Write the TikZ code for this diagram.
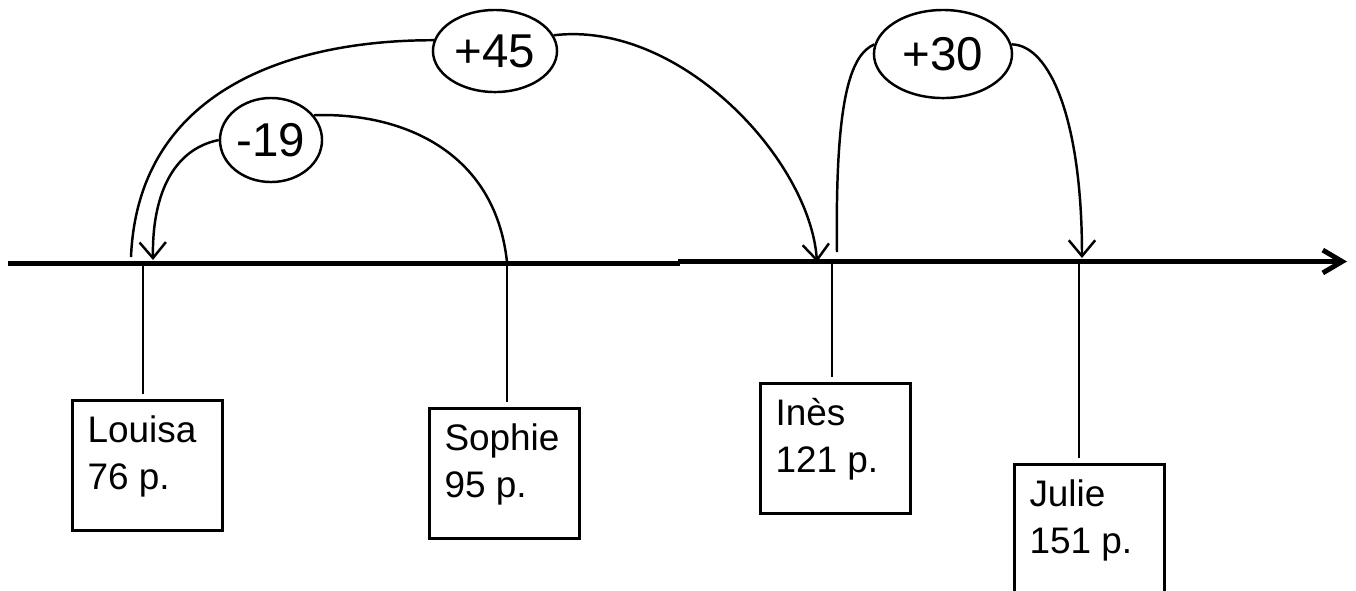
\documentclass[tikz,border=0pt]{standalone}
\usepackage{fontspec}
\setmainfont{Liberation Sans}
\usetikzlibrary{arrows.meta,shapes.geometric}

\newcommand{\namebox}[1]{\parbox[c][1.3cm][t]{1.2cm}{\rule{0pt}{11.95pt}#1}}

\begin{document}
\begin{tikzpicture}[x=0.01cm,y=-0.01cm,
  box/.style={draw,line width=0.85pt,anchor=north west,inner xsep=0.15cm,inner ysep=0pt,
    font=\fontsize{10.5}{13.4}\selectfont},
  jump/.style={draw,ellipse,line width=0.7pt,inner sep=0pt,font=\fontsize{13.5}{16}\selectfont},
  arc/.style={line width=0.7pt},
  hop/.style={line width=0.7pt,-{Straight Barb[length=4.5pt,width=7.5pt]}},
  tick/.style={line width=0.6pt,shorten >=1.4pt}]
\useasboundingbox (0,0) rectangle (1356,590);
\clip (0,0) rectangle (1356,590);

% number line
\draw[line width=1.4pt] (8,263.5)--(680,263.5);
\draw[line width=1.4pt,-{Straight Barb[length=5.5pt,width=6.5pt]}] (678,261.5)--(1347,261.5);

\coordinate (tL) at (143,264);
\coordinate (tS) at (507,264);
\coordinate (tI) at (832,262);
\coordinate (tJ) at (1079,262);

\node[box] (louisa) at (71,399) {\namebox{Louisa\\76 p.}};
\node[box] (sophie) at (428,407) {\namebox{Sophie\\95 p.}};
\node[box] (ines) at (759,382) {\namebox{Inès\\121 p.}};
\node[box] (julie) at (1013,463) {\namebox{Julie\\151 p.}};

\draw[tick] (tL)--(tL |- louisa.north);
\draw[tick] (tS)--(tS |- sophie.north);
\draw[tick] (tI)--(tI |- ines.north);
\draw[tick] (tJ)--(tJ |- julie.north);

% jumps
\node[jump,minimum width=1.24cm,minimum height=0.82cm] (p45) at (495,51) {+45};
\node[jump,minimum width=1.02cm,minimum height=0.84cm] (m19) at (271,140) {-19};
\node[jump,minimum width=1.38cm,minimum height=0.88cm] (p30) at (943,54) {+30};

\coordinate (s45) at (131,257);
\coordinate (e45) at (817,262);
\coordinate (s19) at (507,262);
\coordinate (e19) at (153,260);
\coordinate (s30) at (837,252);
\coordinate (e30) at (1082,258);

\draw[arc] (s45) .. controls (138,90) and (290,40) .. (p45.170);
\draw[hop] (p45.15) .. controls (680,20) and (810,160) .. (e45);

\draw[arc] (s19) .. controls (495,150) and (400,112) .. (m19.30);
\draw[hop] (m19.west) .. controls (170,150) and (152,200) .. (e19);

\draw[arc] (s30) .. controls (835,100) and (850,55) .. (p30.172);
\draw[hop] (p30.8) .. controls (1050,45) and (1082,120) .. (e30);

\end{tikzpicture}
\end{document}
